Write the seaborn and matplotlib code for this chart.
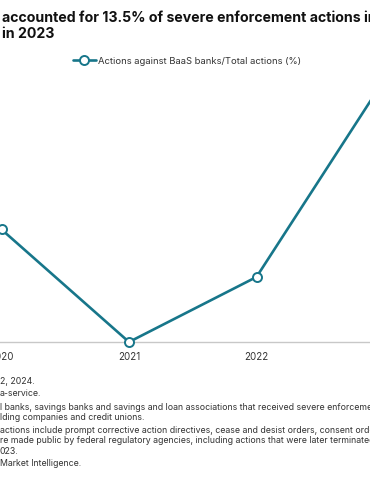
import matplotlib
matplotlib.use("Agg")
import matplotlib.pyplot as plt
import seaborn as sns
import pandas as pd

# Data
years = [2020, 2021, 2022, 2023]
share_pct = [5.8, 0.0, 3.35, 13.5]
series_name = "Actions against BaaS banks/Total actions (%)"

title_lines = ["accounted for 13.5% of severe enforcement actions in", "in 2023"]
notes = [
    "2, 2024.",
    "a-service.",
    "l banks, savings banks and savings and loan associations that received severe enforcement",
    "lding companies and credit unions.",
    "actions include prompt corrective action directives, cease and desist orders, consent orders",
    "re made public by federal regulatory agencies, including actions that were later terminated",
    "023.",
    "Market Intelligence.",
]

sns.set_theme(style="white")
plt.rcParams["font.family"] = ["Inter", "DejaVu Sans"]

W, H = 370, 490
fig = plt.figure(figsize=(W / 100, H / 100), dpi=100)

# axes extend past the figure edges, the reference is a crop of a wider chart
px_per_year = 127.5
x0_px = 1.5 - 0.5 * px_per_year
y0_px = H - 342
px_per_pct = 262 / 13.5
ymax = 14
ax = fig.add_axes([x0_px / W, y0_px / H, 4 * px_per_year / W, ymax * px_per_pct / H])

df = pd.DataFrame({"year": years, "share": share_pct})
teal = "#17768a"
sns.lineplot(data=df, x="year", y="share", ax=ax, color=teal, linewidth=1.9,
             marker="o", markersize=6.5, markerfacecolor="white",
             markeredgecolor=teal, markeredgewidth=1.4, label=series_name,
             clip_on=False, zorder=5)

ax.set_xlim(2019.5, 2023.5)
ax.set_ylim(0, ymax)
ax.set_xticks(years)
ax.set_xticklabels([str(y) for y in years], fontsize=7, color="#333333")
ax.set_yticks([])
ax.set_xlabel("")
ax.set_ylabel("")
ax.tick_params(axis="x", length=0, pad=7)
for side in ["top", "left", "right"]:
    ax.spines[side].set_visible(False)
ax.spines["bottom"].set_color("#c8c8c8")
ax.spines["bottom"].set_linewidth(1.0)

leg = ax.legend(loc="center", bbox_to_anchor=(187 / W, 1 - 61 / H),
                bbox_transform=fig.transFigure, frameon=False,
                fontsize=6.8, handlelength=2.4, handletextpad=0.2)
for t in leg.get_texts():
    t.set_color("#333333")

fig.text(2 / W, 1 - 18 / H, title_lines[0], fontsize=10.2, fontweight="bold",
         color="#111111", va="center", ha="left")
fig.text(2 / W, 1 - 34 / H, title_lines[1], fontsize=10.2, fontweight="bold",
         color="#111111", va="center", ha="left")

note_y = [381, 393, 407, 417, 430, 440, 451, 463]
for txt, y in zip(notes, note_y):
    fig.text(0 / W, 1 - y / H, txt, fontsize=6.3, color="#333333",
             va="center", ha="left")

fig.savefig("out.png", dpi=100)
